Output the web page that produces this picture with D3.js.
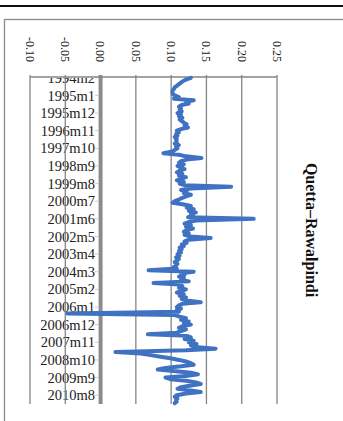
<!DOCTYPE html>
<html>
<head>
<meta charset="utf-8">
<script src="https://cdn.jsdelivr.net/npm/d3@7"></script>
<style>
  body { margin: 0; background: #fff; }
  svg { display: block; }
</style>
</head>
<body>
<svg id="chart" width="343" height="421"></svg>
<script>
// monthly series, 1994m2 onwards
const startYear = 1994, startMonth = 2;
const values = [
  0.128, 0.122, 0.117, 0.114, 0.111, 0.108, 0.105, 0.104, 0.102, 0.102,
  0.102, 0.105, 0.111, 0.104, 0.132, 0.121, 0.125, 0.115, 0.111, 0.114,
  0.112, 0.115, 0.109, 0.114, 0.111, 0.116, 0.112, 0.115, 0.118, 0.122,
  0.119, 0.124, 0.114, 0.108, 0.111, 0.107, 0.109, 0.105, 0.108, 0.107,
  0.108, 0.105, 0.111, 0.107, 0.109, 0.105, 0.102, 0.089, 0.111, 0.121,
  0.143, 0.122, 0.114, 0.111, 0.118, 0.109, 0.114, 0.119, 0.112, 0.108,
  0.116, 0.111, 0.121, 0.114, 0.108, 0.118, 0.112, 0.119, 0.185, 0.128,
  0.114, 0.122, 0.118, 0.128, 0.121, 0.115, 0.111, 0.105, 0.102, 0.118,
  0.128, 0.122, 0.132, 0.125, 0.135, 0.128, 0.131, 0.124, 0.217, 0.135,
  0.125, 0.119, 0.128, 0.121, 0.131, 0.122, 0.118, 0.125, 0.119, 0.128,
  0.156, 0.125, 0.119, 0.122, 0.115, 0.118, 0.112, 0.115, 0.111, 0.114,
  0.109, 0.112, 0.107, 0.111, 0.108, 0.105, 0.109, 0.107, 0.104, 0.108,
  0.068, 0.132, 0.114, 0.119, 0.111, 0.118, 0.114, 0.125, 0.075, 0.112,
  0.116, 0.111, 0.121, 0.114, 0.108, 0.118, 0.112, 0.121, 0.115, 0.125,
  0.142, 0.116, 0.111, 0.108, 0.114, 0.108, 0.111, -0.047, 0.105, 0.112,
  0.121, 0.114, 0.125, 0.118, 0.128, 0.116, 0.111, 0.121, 0.114, 0.108,
  0.067, 0.122, 0.128, 0.119, 0.132, 0.125, 0.136, 0.128, 0.134, 0.163,
  0.121, 0.021, 0.057, 0.071, 0.085, 0.099, 0.111, 0.121, 0.128, 0.132,
  0.114, 0.092, 0.081, 0.107, 0.128, 0.138, 0.121, 0.092, 0.099, 0.121,
  0.135, 0.142, 0.128, 0.114, 0.109, 0.128, 0.142, 0.121, 0.108, 0.105,
  0.109, 0.107, 0.108, 0.105
];
const tickLabels = ["1994m2", "1995m1", "1995m12", "1996m11", "1997m10", "1998m9",
  "1999m8", "2000m7", "2001m6", "2002m5", "2003m4", "2004m3", "2005m2", "2006m1",
  "2006m12", "2007m11", "2008m10", "2009m9", "2010m8"];
const valueTicks = [-0.10, -0.05, 0.00, 0.05, 0.10, 0.15, 0.20, 0.25];
const title = "Quetta–Rawalpindi";

const months = values.map((v, i) => {
  const m = startMonth - 1 + i;
  return (startYear + Math.floor(m / 12)) + "m" + (m % 12 + 1);
});
const data = values.map((v, i) => ({month: months[i], value: v}));

const svg = d3.select("#chart");
const serif = "'Liberation Serif', 'Times New Roman', serif";

// page rule + frame
svg.append("line")
  .attr("x1", 0).attr("x2", 343).attr("y1", 6).attr("y2", 6)
  .attr("stroke", "#111").attr("stroke-width", 2);
svg.append("rect")
  .attr("x", 4.5).attr("y", 19.5).attr("width", 360).attr("height", 420)
  .attr("fill", "none").attr("stroke", "#8a8a8a").attr("stroke-width", 1.3);

const plotTop = 77, plotBottom = 404;
const x = d3.scaleLinear().domain([-0.10, 0.25]).range([30, 277]);
const y = d3.scaleBand().domain(months).range([plotTop, plotBottom]).padding(0);
const yc = m => y(m) + y.bandwidth() / 2;

// category labels (clipped at plot top)
svg.append("clipPath").attr("id", "plotclip")
  .append("rect").attr("x", 0).attr("y", plotTop + 1).attr("width", 343).attr("height", 340);

svg.append("g").attr("clip-path", "url(#plotclip)")
  .selectAll("text")
  .data(tickLabels)
  .join("text")
  .attr("x", 95)
  .attr("y", d => yc(d))
  .attr("dy", "0.35em")
  .attr("text-anchor", "end")
  .style("font-family", serif)
  .style("font-size", "14.5px")
  .attr("fill", "#222")
  .text(d => d);

svg.append("g")
  .selectAll("line")
  .data(tickLabels)
  .join("line")
  .attr("x1", 95).attr("x2", 98)
  .attr("y1", d => yc(d)).attr("y2", d => yc(d))
  .attr("stroke", "#ccc").attr("stroke-width", 1);

// gridlines
svg.append("g")
  .selectAll("line")
  .data(valueTicks)
  .join("line")
  .attr("x1", d => x(d)).attr("x2", d => x(d))
  .attr("y1", plotTop - 2).attr("y2", plotBottom)
  .attr("stroke", d => d === 0 ? "#8c8c8c" : "#858585")
  .attr("stroke-width", d => d === 0 ? 4 : 1.3);

svg.append("line")
  .attr("x1", x(-0.10)).attr("x2", x(0.25))
  .attr("y1", plotTop).attr("y2", plotTop)
  .attr("stroke", "#858585").attr("stroke-width", 1.3);

// value tick labels, rotated
svg.append("g")
  .selectAll("text")
  .data(valueTicks)
  .join("text")
  .attr("transform", d => "translate(" + x(d) + ",62) rotate(90)")
  .attr("dy", "0.35em")
  .attr("text-anchor", "end")
  .style("font-family", serif)
  .style("font-size", "12px")
  .attr("fill", "#222")
  .text(d => d.toFixed(2));

// series line
const line = d3.line()
  .x(d => x(d.value))
  .y(d => yc(d.month));

svg.append("path")
  .datum(data)
  .attr("d", line)
  .attr("fill", "none")
  .attr("stroke", "#3f72c2")
  .attr("stroke-width", 4)
  .attr("stroke-linejoin", "round")
  .attr("stroke-linecap", "round");

// title
svg.append("text")
  .attr("transform", "translate(312,230) rotate(90)")
  .attr("dy", "0.35em")
  .attr("text-anchor", "middle")
  .style("font-family", serif)
  .style("font-size", "16px")
  .style("font-weight", "bold")
  .attr("fill", "#111")
  .text(title);
</script>
</body>
</html>
